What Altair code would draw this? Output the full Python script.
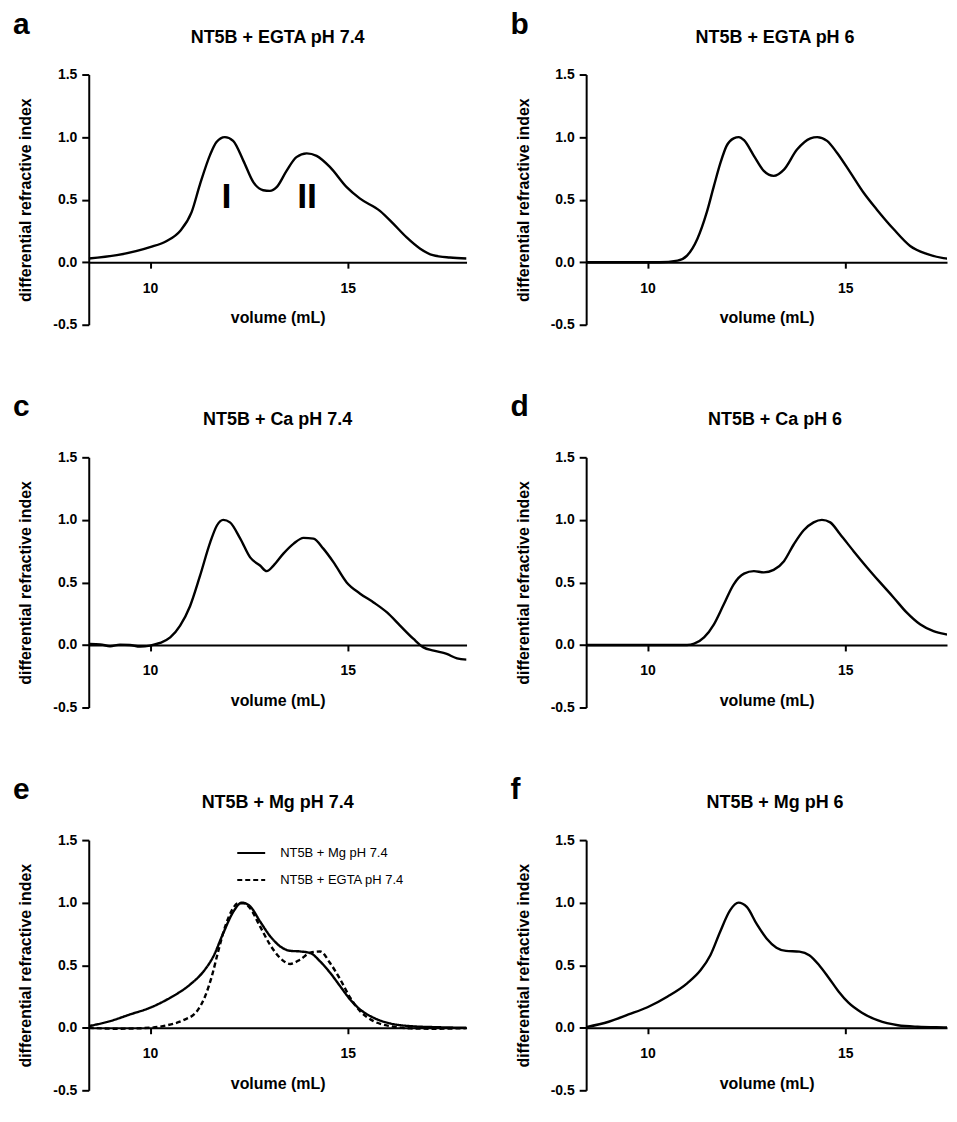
import altair as alt
import pandas as pd

FONT = "Liberation Sans"

# ---------------- data ----------------
a_x = [8.45, 9.16, 10.0, 10.42, 10.76, 11.05, 11.26, 11.52, 11.68, 11.89, 12.10, 12.36, 12.61, 12.86,
       13.03, 13.20, 13.45, 13.70, 13.96, 14.21, 14.55, 14.97, 15.30, 15.81, 16.14, 16.48, 16.82,
       17.15, 17.58, 18.0]
a_y = [0.03, 0.056, 0.12, 0.17, 0.25, 0.40, 0.62, 0.86, 0.96, 1.0, 0.97, 0.81, 0.64, 0.575,
       0.57, 0.60, 0.73, 0.84, 0.87, 0.85, 0.76, 0.60, 0.51, 0.41, 0.31, 0.20, 0.11,
       0.056, 0.037, 0.03]

b_x = [8.45, 9.5, 10.3, 10.76, 11.0, 11.26, 11.5, 11.68, 11.85, 12.0, 12.18, 12.31, 12.44, 12.69,
       12.94, 13.19, 13.45, 13.78, 14.12, 14.29, 14.54, 14.79, 15.13, 15.46, 15.8, 16.22, 16.64,
       17.06, 17.48, 18.0]
b_y = [0.0, 0.0, 0.0, 0.013, 0.053, 0.186, 0.40, 0.61, 0.80, 0.93, 0.99, 1.0, 0.975, 0.85,
       0.73, 0.69, 0.74, 0.90, 0.99, 1.0, 0.97, 0.875, 0.716, 0.557, 0.42, 0.265, 0.13,
       0.066, 0.032, 0.018]

c_x = [8.48, 8.74, 8.99, 9.24, 9.49, 9.75, 10.0, 10.25, 10.51, 10.76, 11.01, 11.26, 11.52, 11.69,
       11.85, 12.02, 12.28, 12.53, 12.78, 12.95, 13.12, 13.37, 13.63, 13.88, 14.13,
       14.38, 14.64, 14.97, 15.31, 15.65, 15.99, 16.32, 16.66, 16.91, 17.17, 17.5, 17.76, 18.0]
c_y = [0.008, 0.005, -0.01, 0.003, 0.0, -0.013, -0.005, 0.016, 0.06, 0.155, 0.31, 0.55, 0.82, 0.955,
       1.0, 0.98, 0.85, 0.70, 0.635, 0.59, 0.635, 0.73, 0.81, 0.856, 0.85,
       0.77, 0.66, 0.50, 0.41, 0.34, 0.26, 0.155, 0.048, -0.019, -0.045, -0.072, -0.107, -0.117]

d_x = [8.45, 9.5, 10.5, 11.0, 11.18, 11.43, 11.68, 11.93, 12.18, 12.44, 12.69, 12.94, 13.19, 13.45,
       13.70, 13.95, 14.2, 14.41, 14.62, 14.87, 15.21, 15.55, 15.88, 16.22, 16.55, 16.89, 17.23,
       17.56, 17.87, 18.0]
d_y = [0.0, 0.0, 0.0, 0.0, 0.01, 0.06, 0.165, 0.325, 0.485, 0.57, 0.59, 0.58, 0.60, 0.67,
       0.805, 0.917, 0.98, 1.0, 0.98, 0.885, 0.75, 0.62, 0.50, 0.38, 0.26, 0.165, 0.11,
       0.085, 0.072, 0.068]

e_mg_x = [8.45, 8.99, 9.49, 10.0, 10.51, 11.01, 11.35, 11.6, 11.85, 12.11, 12.32, 12.53, 12.78, 13.04,
          13.29, 13.54, 13.79, 14.05, 14.3, 14.55, 14.81, 15.06, 15.31, 15.65, 16.07, 16.58, 17.17, 18.0]
e_mg_y = [0.013, 0.053, 0.106, 0.16, 0.24, 0.345, 0.45, 0.57, 0.756, 0.93, 1.0, 0.97, 0.85, 0.73,
          0.65, 0.615, 0.61, 0.597, 0.53, 0.44, 0.33, 0.225, 0.146, 0.08, 0.034, 0.013, 0.005, 0.0]
e_eg_x = [8.45, 9.16, 10.0, 10.42, 10.84, 11.18, 11.39, 11.56, 11.73, 11.9, 12.07, 12.23, 12.36, 12.53,
          12.78, 13.04, 13.29, 13.54, 13.79, 14.05, 14.3, 14.55, 14.81, 15.06, 15.31, 15.65, 16.07,
          16.58, 17.17, 18.0]
e_eg_y = [0.0, -0.008, 0.0, 0.019, 0.06, 0.13, 0.25, 0.41, 0.62, 0.81, 0.94, 0.995, 0.995, 0.955,
          0.81, 0.66, 0.557, 0.51, 0.544, 0.60, 0.61, 0.517, 0.385, 0.24, 0.133, 0.053, 0.013,
          -0.005, -0.008, -0.003]

f_x = [8.45, 9.02, 9.52, 10.0, 10.51, 11.01, 11.35, 11.59, 11.84, 12.09, 12.3, 12.51, 12.76, 13.01,
       13.26, 13.5, 13.84, 14.09, 14.34, 14.58, 14.83, 15.08, 15.42, 15.83, 16.33, 16.83, 17.49, 18.0]
f_y = [0.005, 0.048, 0.106, 0.164, 0.25, 0.357, 0.463, 0.58, 0.77, 0.94, 1.0, 0.966, 0.83, 0.714,
       0.64, 0.614, 0.608, 0.58, 0.50, 0.40, 0.29, 0.20, 0.12, 0.058, 0.02, 0.008, 0.003, 0.0]

panel_letters = ["a", "b", "c", "d", "e", "f"]
panel_titles = ["NT5B + EGTA pH 7.4", "NT5B + EGTA pH 6", "NT5B + Ca pH 7.4",
                "NT5B + Ca pH 6", "NT5B + Mg pH 7.4", "NT5B + Mg pH 6"]
series_names = ["NT5B + Mg pH 7.4", "NT5B + EGTA pH 7.4"]

peak_labels = ["I", "II"]
peak_x = [11.93, 13.97]
peak_y = [0.52, 0.52]

y_ticks = [-0.5, 0.0, 0.5, 1.0, 1.5]
x_ticks = [10, 15]
x_min, x_max = 8.45, 18.0

# ---------------- layout ----------------
H = 251
W_LEFT = 379
W_RIGHT = 362
PX_PER_ML = W_LEFT / (x_max - x_min)


def make_panel(idx, df, width, interpolate="monotone", legend=False, extra=None):
    xmax = x_min + width / PX_PER_ML
    x_axis = alt.Axis(values=x_ticks, offset=-H / 4, title="volume (mL)", format="d",
                      grid=False, domainColor="black", domainWidth=2, tickColor="black",
                      tickWidth=2, tickSize=6, labelFont=FONT, labelFontSize=14,
                      labelFontWeight="bold", labelColor="black", labelPadding=13,
                      titleFont=FONT, titleFontSize=16, titleFontWeight="bold",
                      titleColor="black", titlePadding=15)
    y_axis = alt.Axis(values=y_ticks, title="differential refractive index", grid=False,
                      labelExpr="datum.value < 0 ? '-' + format(-datum.value, '.1f') : format(datum.value, '.1f')",
                      domainColor="black", domainWidth=2, tickColor="black", tickWidth=2,
                      tickSize=7, labelFont=FONT, labelFontSize=14, labelFontWeight="bold",
                      labelColor="black", labelPadding=5, titleFont=FONT, titleFontSize=16,
                      titleFontWeight="bold", titleColor="black", titlePadding=19)
    enc = dict(
        x=alt.X("x:Q", scale=alt.Scale(domain=[x_min, xmax], nice=False, zero=False), axis=x_axis),
        y=alt.Y("y:Q", scale=alt.Scale(domain=[-0.5, 1.5], nice=False, zero=False), axis=y_axis),
    )
    if legend:
        enc["strokeDash"] = alt.StrokeDash(
            "series:N",
            scale=alt.Scale(domain=series_names, range=[[1, 0], [5, 3]]),
            legend=alt.Legend(orient="none", legendX=148, legendY=-2, title=None,
                              symbolType="stroke", symbolSize=784, symbolStrokeWidth=2,
                              symbolStrokeColor="black", labelFont=FONT, labelFontSize=13,
                              labelColor="black", labelOffset=14, rowPadding=5, padding=0),
        )
    else:
        enc["detail"] = "series:N"
    lines = alt.Chart(df).mark_line(interpolate=interpolate, strokeWidth=2.4, color="black",
                                    clip=True).encode(**enc)
    hdr = pd.DataFrame({"letter": [panel_letters[idx]], "title": [panel_titles[idx]]})
    letter = alt.Chart(hdr).mark_text(align="left", baseline="alphabetic", font=FONT, fontSize=30,
                                      fontWeight="bold", color="black").encode(
        x=alt.value(-76), y=alt.value(-41), text="letter:N")
    title = alt.Chart(hdr).mark_text(align="center", baseline="alphabetic", font=FONT, fontSize=18,
                                     fontWeight="bold", color="black").encode(
        x=alt.value(W_LEFT / 2), y=alt.value(-32), text="title:N")
    layers = [lines, letter, title]
    if extra is not None:
        layers.append(extra)
    return alt.layer(*layers).properties(width=width, height=H)


def frame(xs, ys, name="s"):
    return pd.DataFrame({"x": xs, "y": ys, "series": name})


peaks_df = pd.DataFrame({"label": peak_labels, "x": peak_x, "y": peak_y})
peaks = alt.Chart(peaks_df).mark_text(align="center", baseline="middle", font=FONT, fontSize=36,
                                      fontWeight="bold", color="black").encode(
    x="x:Q", y="y:Q", text="label:N")

pa = make_panel(0, frame(a_x, a_y), W_LEFT, extra=peaks)
pb = make_panel(1, frame(b_x, b_y), W_RIGHT)
pc = make_panel(2, frame(c_x, c_y), W_LEFT)
pd_ = make_panel(3, frame(d_x, d_y), W_RIGHT)
e_df = pd.concat([frame(e_mg_x, e_mg_y, series_names[0]), frame(e_eg_x, e_eg_y, series_names[1])])
pe = make_panel(4, e_df, W_LEFT, legend=True)
pf = make_panel(5, frame(f_x, f_y), W_RIGHT)

chart = alt.concat(pa, pb, pc, pd_, pe, pf, columns=2,
                   spacing={"row": 133, "column": 120}, bounds="flush").resolve_scale(
    strokeDash="independent").resolve_legend(strokeDash="independent").properties(
    padding={"left": 5, "top": 0, "right": 2, "bottom": 5}, background="white"
).configure_view(strokeWidth=0)

chart.save("out.html", embed_options={"renderer": "svg", "actions": False})
